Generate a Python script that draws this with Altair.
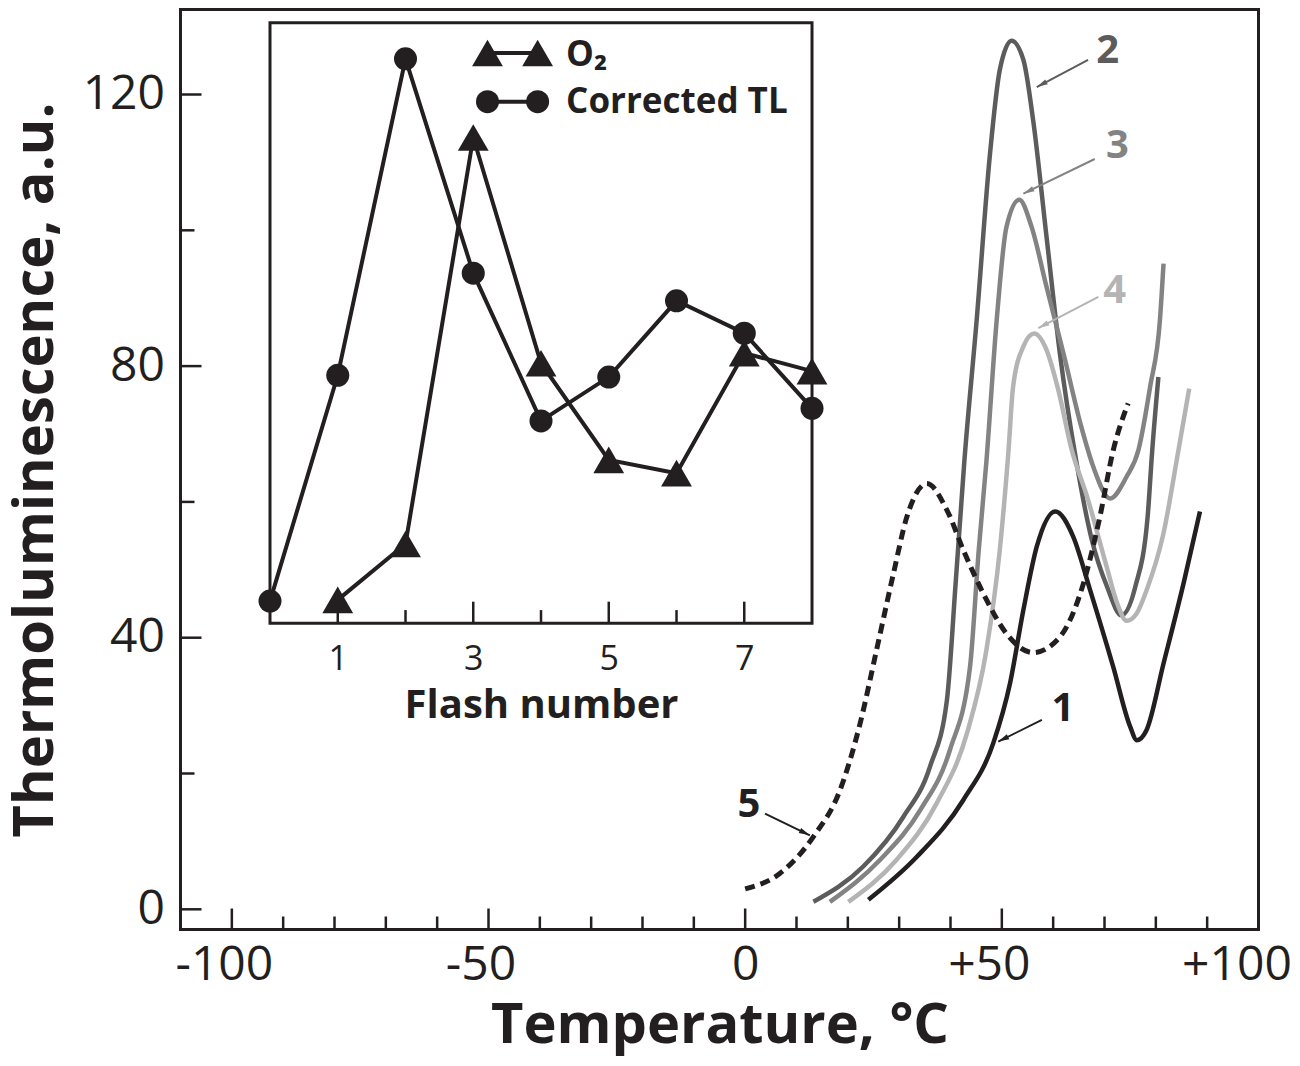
import math
import altair as alt
import pandas as pd

# ---------------- main chart data: temperature (deg C) vs thermoluminescence (a.u.) ----------------
T1 = [24.0, 33.4, 42.5, 48.3, 51.6, 54.2, 56.8, 60.4, 63.9, 67.2, 71.7, 75.0, 76.3, 78.2, 81.5, 85.4, 88.6]
TL1 = [1.4, 7.7, 16.1, 24.4, 33.3, 44.1, 53.4, 58.6, 54.9, 47.0, 35.7, 26.9, 24.9, 26.4, 36.2, 48.0, 58.6]

T2 = [13.3, 23.0, 30.8, 36.0, 39.3, 41.0, 42.7, 45.1, 47.7, 49.6, 51.9, 54.2, 56.1, 58.7, 61.3, 64.5, 67.5, 70.5, 73.3, 76.0, 78.4, 79.3, 80.5]
TL2 = [1.1, 6.3, 13.6, 21.0, 30.8, 48.0, 66.0, 86.8, 111.3, 123.6, 127.9, 125.1, 116.2, 99.1, 81.9, 66.0, 54.5, 47.5, 43.3, 47.5, 57.8, 67.6, 78.4]

T3 = [16.5, 26.3, 34.1, 39.9, 43.8, 45.5, 47.0, 49.0, 50.9, 53.4, 55.8, 58.7, 62.0, 65.5, 67.8, 71.1, 74.3, 76.6, 78.9, 80.8, 81.5]
TL3 = [1.1, 7.3, 14.6, 23.5, 35.7, 52.9, 66.0, 86.8, 100.5, 104.5, 100.5, 91.7, 81.9, 71.0, 65.2, 60.5, 63.7, 67.6, 77.0, 86.8, 95.1]

T4 = [20.1, 29.5, 37.3, 43.2, 47.0, 49.6, 51.3, 52.2, 54.2, 56.3, 58.7, 61.0, 63.5, 66.8, 70.4, 72.5, 74.3, 76.2, 78.2, 81.5, 84.4, 86.5]
TL4 = [1.1, 7.3, 15.6, 25.9, 38.2, 52.9, 67.6, 77.0, 82.9, 84.8, 82.4, 76.5, 68.0, 60.3, 50.5, 45.0, 42.5, 43.5, 47.0, 55.4, 67.6, 76.7]

T5 = [0.0, 6.8, 13.3, 18.5, 22.4, 25.6, 28.9, 31.5, 35.4, 39.3, 42.5, 46.4, 50.9, 56.1, 61.3, 65.9, 69.1, 71.7, 74.6]
TL5 = [3.0, 5.3, 10.7, 17.6, 27.4, 38.2, 49.5, 57.8, 62.7, 58.8, 52.9, 46.5, 40.6, 37.8, 40.1, 48.0, 57.8, 67.6, 74.5]

# curve labels and their arrows (data coordinates)
ann_labels = ["1", "2", "3", "4", "5"]
ann_T = [61.9, 70.6, 72.5, 72.0, 0.74]
ann_TL = [29.5, 126.4, 112.4, 91.0, 15.3]
arrow_T_start = [57.8, 66.8, 68.1, 68.8, 3.86]
arrow_TL_start = [27.9, 125.1, 110.5, 90.2, 14.1]
arrow_T_end = [49.3, 56.8, 54.2, 57.1, 12.6]
arrow_TL_end = [24.7, 121.1, 105.4, 85.6, 10.9]

# axis ticks
x_label_values = [-100, -50, 0, 50, 100]
x_major = [-100, -50, 0, 50]
x_minor = [-90, -80, -70, -60, -40, -30, -20, -10, 10, 20, 30, 40, 60, 70, 80, 90]
y_major = [0, 40, 80, 120]
y_minor = [20, 60, 100]

# ---------------- inset data: flash number dependence ----------------
flash_tl = [0, 1, 2, 3, 4, 5, 6, 7, 8]
corrected_tl = [3.7, 41.3, 94.0, 58.3, 33.7, 41.0, 53.7, 48.3, 35.8]
flash_o2 = [1, 2, 3, 4, 5, 6, 7, 8]
o2_yield = [3.9, 13.2, 80.9, 43.3, 27.2, 25.0, 45.0, 42.0]
flash_label_values = [1, 3, 5, 7]
flash_minor = [2, 4, 6]

# ---------------- layout / style ----------------
W, H = 1078, 920
X_DOM = [-110, 100]
Y_DOM = [-2.975, 132.52]
XI_DOM = [-1.321, 14.590]     # places the inset box (flash 0..8) in the upper-left region
YI_DOM = [-50.99, 102.21]     # inset values 0..100 span the inset box
INK = "#231f20"
C2, C3, C4 = "#5c5c5c", "#838383", "#b4b4b4"
FONT = "Open Sans"
PX = W / (X_DOM[1] - X_DOM[0])
PY = H / (Y_DOM[1] - Y_DOM[0])


def xs():
    return alt.Scale(domain=X_DOM, nice=False, zero=False)


def ys():
    return alt.Scale(domain=Y_DOM, nice=False, zero=False)


def xis():
    return alt.Scale(domain=XI_DOM, nice=False, zero=False)


def yis():
    return alt.Scale(domain=YI_DOM, nice=False, zero=False)


x_axis = alt.Axis(
    orient="bottom", values=x_label_values,
    labelExpr="datum.value > 0 ? '+' + datum.value : '' + datum.value",
    labelOffset={"condition": [{"test": "datum.value < 0", "value": -8},
                               {"test": "datum.value > 60", "value": -22},
                               {"test": "datum.value > 0", "value": -13}],
                 "value": 0},
    ticks=False, tickSize=0, domain=False, grid=False,
    labelFont=FONT, labelFontSize=48, labelColor=INK, labelPadding=12,
    labelFlush=False, labelOverlap=False,
    title="Temperature, °C", titleFont=FONT, titleFontSize=56, titleFontWeight="bold",
    titleColor=INK, titleBaseline="alphabetic", titleY=113,
)
y_axis = alt.Axis(
    orient="left", values=y_major,
    ticks=False, tickSize=0, domain=False, grid=False,
    labelFont=FONT, labelFontSize=48, labelColor=INK, labelPadding=16,
    labelFlush=False, labelOverlap=False,
    title="Thermoluminescence, a.u.", titleFont=FONT, titleFontSize=56, titleFontWeight="bold",
    titleColor=INK, titleBaseline="alphabetic", titleAngle=270, titleX=-128,
)
inset_axis = alt.Axis(
    orient="bottom", offset=-306.2, values=flash_label_values,
    ticks=False, tickSize=0, domain=False, grid=False,
    labelFont=FONT, labelFontSize=34, labelColor=INK, labelPadding=19,
    labelFlush=False, labelOverlap=False,
    title="Flash number", titleFont=FONT, titleFontSize=40, titleFontWeight="bold",
    titleColor=INK, titleBaseline="alphabetic", titleY=94, titleX=360.5, titleAlign="center",
)

layers = []

# ---------------- main curves ----------------
curves = [
    (T2, TL2, C2, None),
    (T3, TL3, C3, None),
    (T4, TL4, C4, None),
    (T1, TL1, INK, None),
    (T5, TL5, INK, [10, 6]),
]
for i, (tt, ll, col, dash) in enumerate(curves):
    df = pd.DataFrame({"T": tt, "TL": ll})
    kw = dict(color=col, strokeWidth=4.5, interpolate="monotone", strokeCap="butt")
    if dash:
        kw["strokeDash"] = dash
        kw["strokeWidth"] = 5
    first = i == 0
    layers.append(
        alt.Chart(df).mark_line(**kw).encode(
            x=alt.X("T:Q", scale=xs(), axis=x_axis if first else None),
            y=alt.Y("TL:Q", scale=ys(), axis=y_axis if first else None),
        )
    )

# inward tick marks of the main frame
for vals, ln in ((x_major, 21), (x_minor, 13)):
    layers.append(
        alt.Chart(pd.DataFrame({"T": vals})).mark_rule(color=INK, strokeWidth=2.5).encode(
            x=alt.X("T:Q", scale=xs(), axis=None), y=alt.value(H), y2=alt.value(H - ln)
        )
    )
for vals, ln in ((y_major, 21), (y_minor, 14)):
    layers.append(
        alt.Chart(pd.DataFrame({"TL": vals})).mark_rule(color=INK, strokeWidth=2.5).encode(
            y=alt.Y("TL:Q", scale=ys(), axis=None), x=alt.value(0), x2=alt.value(ln)
        )
    )

# curve labels with arrows
label_colors = {"1": INK, "2": C2, "3": C3, "4": C4, "5": INK}
ann = pd.DataFrame({
    "lab": ann_labels, "T": ann_T, "TL": ann_TL,
    "Ts": arrow_T_start, "TLs": arrow_TL_start, "Te": arrow_T_end, "TLe": arrow_TL_end,
})
ann["col"] = ann["lab"].map(label_colors)
heads_T, heads_TL, heads_ang = [], [], []
for ts, ls, te, le in zip(arrow_T_start, arrow_TL_start, arrow_T_end, arrow_TL_end):
    dx = (te - ts) * PX
    dy = -(le - ls) * PY
    L = math.hypot(dx, dy)
    ux, uy = dx / L, dy / L
    heads_T.append(te - 5.5 * ux / PX)
    heads_TL.append(le + 5.5 * uy / PY)
    heads_ang.append(math.degrees(math.atan2(dy, dx)) % 360)
ann["Th"] = heads_T
ann["TLh"] = heads_TL
ann["ang"] = heads_ang

color_enc = alt.Color("col:N", scale=None, legend=None)
layers.append(
    alt.Chart(ann).mark_text(font=FONT, fontSize=40, fontWeight="bold", align="center", baseline="middle").encode(
        x=alt.X("T:Q", scale=xs(), axis=None), y=alt.Y("TL:Q", scale=ys(), axis=None),
        text="lab:N", color=color_enc,
    )
)
layers.append(
    alt.Chart(ann).mark_rule(strokeWidth=2).encode(
        x=alt.X("Ts:Q", scale=xs(), axis=None), y=alt.Y("TLs:Q", scale=ys(), axis=None),
        x2="Te:Q", y2="TLe:Q", color=color_enc,
    )
)
layers.append(
    alt.Chart(ann).mark_point(shape="M1,0L-1,-0.5L-1,0.5Z", filled=True, size=121, opacity=1, strokeWidth=0).encode(
        x=alt.X("Th:Q", scale=xs(), axis=None), y=alt.Y("TLh:Q", scale=ys(), axis=None),
        angle=alt.Angle("ang:Q", scale=None), color=color_enc,
    )
)

# ---------------- inset ----------------
box = pd.DataFrame({"f": [0], "f2": [8], "v": [0], "v2": [100]})
layers.append(
    alt.Chart(box).mark_rect(fillOpacity=0, stroke=INK, strokeWidth=3).encode(
        x=alt.X("f:Q", scale=xis(), axis=inset_axis), x2="f2:Q",
        y=alt.Y("v:Q", scale=yis(), axis=None), y2="v2:Q",
    )
)
for vals, ln in ((flash_label_values, 3.6), (flash_minor, 2.2)):
    layers.append(
        alt.Chart(pd.DataFrame({"f": vals, "v": [0] * len(vals), "v2": [ln] * len(vals)}))
        .mark_rule(color=INK, strokeWidth=2.5)
        .encode(x=alt.X("f:Q", scale=xis(), axis=None), y=alt.Y("v:Q", scale=yis(), axis=None), y2="v2:Q")
    )

df_tl = pd.DataFrame({"f": flash_tl, "v": corrected_tl})
df_o2 = pd.DataFrame({"f": flash_o2, "v": o2_yield})
for df in (df_o2, df_tl):
    layers.append(
        alt.Chart(df).mark_line(color=INK, strokeWidth=4).encode(
            x=alt.X("f:Q", scale=xis(), axis=None), y=alt.Y("v:Q", scale=yis(), axis=None)
        )
    )
for df, shape, size in ((df_o2, "triangle-up", 950), (df_tl, "circle", 530)):
    layers.append(
        alt.Chart(df).mark_point(shape=shape, size=size, filled=True, color=INK, opacity=1).encode(
            x=alt.X("f:Q", scale=xis(), axis=None), y=alt.Y("v:Q", scale=yis(), axis=None)
        )
    )

# inset legend
for yv, shape, size in ((94.97, "triangle-up", 950), (86.86, "circle", 530)):
    d = pd.DataFrame({"f": [3.21, 3.95], "f2": [3.95, 3.21], "v": [yv, yv]})
    layers.append(
        alt.Chart(d.iloc[[0]]).mark_rule(color=INK, strokeWidth=4).encode(
            x=alt.X("f:Q", scale=xis(), axis=None), x2="f2:Q", y=alt.Y("v:Q", scale=yis(), axis=None)
        )
    )
    layers.append(
        alt.Chart(d).mark_point(shape=shape, size=size, filled=True, color=INK, opacity=1).encode(
            x=alt.X("f:Q", scale=xis(), axis=None), y=alt.Y("v:Q", scale=yis(), axis=None)
        )
    )
leg_text = pd.DataFrame({"f": [4.37, 4.37], "v": [94.7, 86.8], "t": ["O₂", "Corrected TL"]})
layers.append(
    alt.Chart(leg_text).mark_text(font=FONT, fontSize=35, fontWeight="bold", align="left", baseline="middle", color=INK).encode(
        x=alt.X("f:Q", scale=xis(), axis=None), y=alt.Y("v:Q", scale=yis(), axis=None), text="t:N"
    )
)

chart = (
    alt.layer(*layers)
    .resolve_scale(x="independent", y="independent")
    .properties(
        width=W, height=H,
        autosize=alt.AutoSizeParams(type="none"),
        padding={"left": 172.5, "top": 1.5, "right": 33.5, "bottom": 128.5},
        background="white",
    )
    .configure_view(stroke=INK, strokeWidth=3)
)

chart.save("out.html", embed_options={"renderer": "svg", "actions": False})
